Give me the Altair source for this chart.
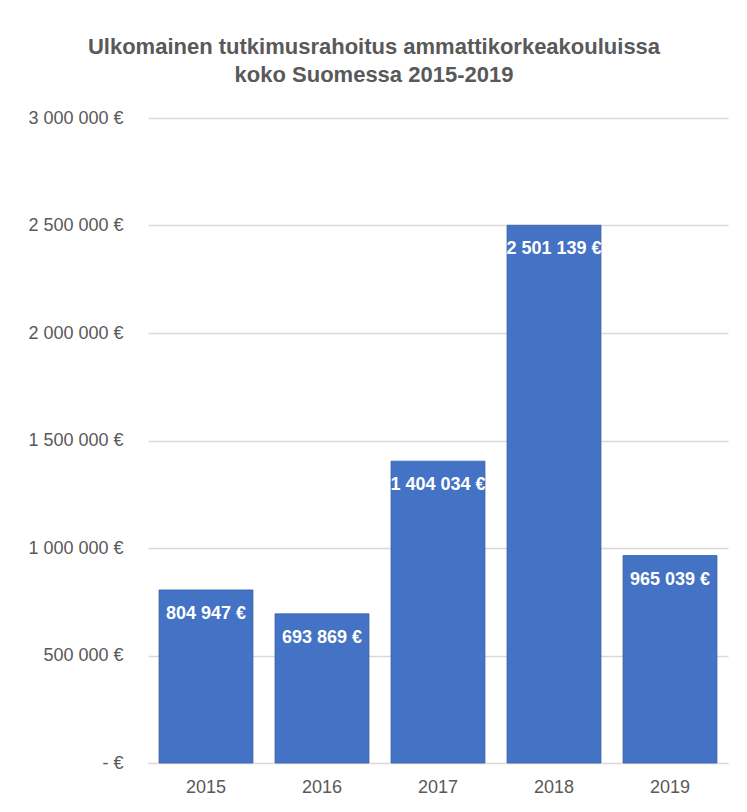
import altair as alt
import pandas as pd

years = ["2015", "2016", "2017", "2018", "2019"]
values = [804947, 693869, 1404034, 2501139, 965039]
labels = ["804 947 €", "693 869 €", "1 404 034 €", "2 501 139 €", "965 039 €"]
y_ticks = [0, 500000, 1000000, 1500000, 2000000, 2500000, 3000000]

df = pd.DataFrame({"year": years, "value": values, "label": labels})

FONT = "Liberation Sans"
GRAY = "#595959"

x_enc = alt.X("year:N", sort=years, title=None,
              scale=alt.Scale(paddingInner=0.19, paddingOuter=0.095),
              axis=alt.Axis(labelAngle=0, ticks=False, domain=True, domainColor="#D9D9D9",
                            labelFontSize=18, labelColor=GRAY, labelFont=FONT, labelPadding=15,
                            grid=False))
y_enc = alt.Y("value:Q", title=None,
              scale=alt.Scale(domain=[0, 3000000], nice=False),
              axis=alt.Axis(values=y_ticks, ticks=False, domain=False, grid=True,
                            gridColor="#D9D9D9", gridWidth=1.5,
                            labelFontSize=18, labelColor=GRAY, labelFont=FONT, labelPadding=25,
                            labelExpr="datum.value == 0 ? '- €' : replace(format(datum.value, ',d'), regexp(',', 'g'), ' ') + ' €'"))

base = alt.Chart(df)
bars = base.mark_bar(color="#4472C4", stroke="#3A63AD", strokeWidth=0.8).encode(x=x_enc, y=y_enc)
text = base.mark_text(color="white", fontWeight="bold", fontSize=18, font=FONT,
                      baseline="middle", dy=24).encode(x=alt.X("year:N", sort=years), y="value:Q", text="label:N")

chart = alt.layer(bars, text).properties(
    width=580, height=645,
    title=alt.TitleParams(
        text=["Ulkomainen tutkimusrahoitus ammattikorkeakouluissa", "koko Suomessa 2015-2019"],
        font=FONT, fontSize=22, fontWeight="bold", color=GRAY, lineHeight=28,
        anchor="middle", dx=-64, offset=22),
    autosize=alt.AutoSizeParams(type="none"),
    padding={"left": 140, "top": 110, "right": 11, "bottom": 41},
).configure(background="white", view={"stroke": None})

chart.save("out.html", embed_options={"renderer": "svg", "actions": False})
